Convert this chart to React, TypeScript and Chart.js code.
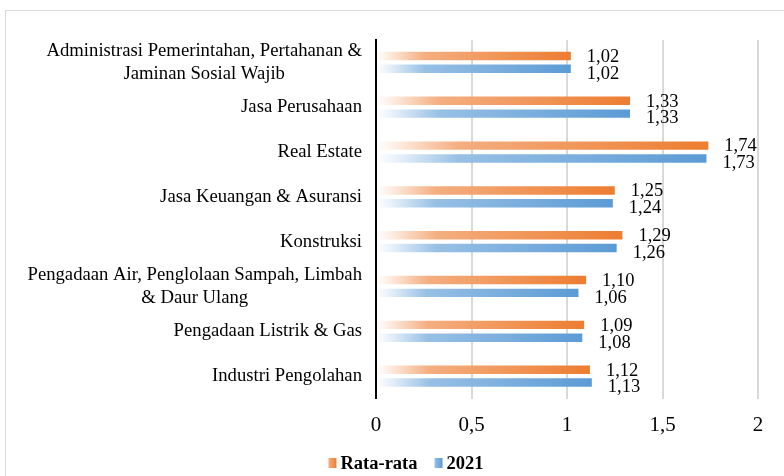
import React, { useEffect, useRef } from 'react';
import { Chart, registerables } from 'chart.js';

Chart.register(...registerables);

const categories: string[][] = [
  ['Administrasi Pemerintahan, Pertahanan &', 'Jaminan Sosial Wajib'],
  ['Jasa Perusahaan'],
  ['Real Estate'],
  ['Jasa Keuangan & Asuransi'],
  ['Konstruksi'],
  ['Pengadaan Air, Penglolaan Sampah, Limbah', '& Daur Ulang'],
  ['Pengadaan Listrik & Gas'],
  ['Industri Pengolahan'],
];
const rataRata = [1.02, 1.33, 1.74, 1.25, 1.29, 1.1, 1.09, 1.12];
const tahun2021 = [1.02, 1.33, 1.73, 1.24, 1.26, 1.06, 1.08, 1.13];
const seriesNames = ['Rata-rata', '2021'];
const xTicks = [0, 0.5, 1, 1.5, 2];

const SERIF = '"Liberation Serif", "Times New Roman", serif';

const orangeStops: [number, string][] = [
  [0, '#ffffff'],
  [0.06, '#fdeee4'],
  [0.25, '#f4ae80'],
  [1, '#ed7d31'],
];
const blueStops: [number, string][] = [
  [0, '#ffffff'],
  [0.06, '#eaf2fa'],
  [0.25, '#98c0e5'],
  [1, '#5b9bd5'],
];

const makeFill = (stops: [number, string][], fallback: string) => (ctx: any) => {
  const chart = ctx.chart;
  const xs = chart.scales && chart.scales.x;
  if (!chart.chartArea || !xs || ctx.type !== 'data' || ctx.raw == null) return fallback;
  const x0 = xs.getPixelForValue(0);
  const x1 = xs.getPixelForValue(ctx.raw);
  if (!isFinite(x0) || !isFinite(x1) || x1 - x0 < 1) return fallback;
  const g = chart.ctx.createLinearGradient(x0, 0, x1, 0);
  stops.forEach(([o, c]) => g.addColorStop(o, c));
  return g;
};

const framePlugin = {
  id: 'frame',
  beforeDraw(chart: any) {
    const c = chart.ctx;
    c.save();
    c.fillStyle = '#ffffff';
    c.fillRect(0, 0, chart.width, chart.height);
    c.strokeStyle = '#d9d9d9';
    c.lineWidth = 1;
    c.strokeRect(5.5, 10.5, chart.width + 20, chart.height + 20);
    c.restore();
  },
};

const categoryLabelPlugin = {
  id: 'categoryLabels',
  afterDraw(chart: any) {
    const c = chart.ctx;
    const ys = chart.scales.y;
    const right = chart.chartArea.left - 14;
    const lh = 23;
    c.save();
    c.font = `18.7px ${SERIF}`;
    c.fillStyle = '#000000';
    c.textAlign = 'center';
    c.textBaseline = 'middle';
    categories.forEach((lines, i) => {
      const y = ys.getPixelForValue(i);
      const w = Math.max(...lines.map((l) => c.measureText(l).width));
      const cx = right - w / 2;
      lines.forEach((l, j) => {
        c.fillText(l, cx, y + (j - (lines.length - 1) / 2) * lh);
      });
    });
    c.restore();
  },
};

const dataLabelPlugin = {
  id: 'dataLabels',
  afterDatasetsDraw(chart: any) {
    const c = chart.ctx;
    c.save();
    c.font = `18.5px ${SERIF}`;
    c.fillStyle = '#000000';
    c.textAlign = 'left';
    c.textBaseline = 'middle';
    chart.data.datasets.forEach((ds: any, di: number) => {
      const meta = chart.getDatasetMeta(di);
      meta.data.forEach((el: any, i: number) => {
        const v = ds.data[i] as number;
        const txt = v.toFixed(2).replace('.', ',');
        c.fillText(txt, el.x + 16, el.y + (di === 0 ? 1 : 5));
      });
    });
    c.restore();
  },
};

const legendPlugin = {
  id: 'customLegend',
  afterDraw(chart: any) {
    const c = chart.ctx;
    c.save();
    c.font = `bold 18.5px ${SERIF}`;
    const iconW = 8;
    const iconH = 10;
    const gapText = 4;
    const gapItems = 17;
    const widths = seriesNames.map((n) => c.measureText(n).width);
    const total =
      widths.reduce((a, w) => a + iconW + gapText + w, 0) + gapItems * (seriesNames.length - 1);
    let x = 406 - total / 2;
    const yc = 463;
    const stopsList = [orangeStops, blueStops];
    seriesNames.forEach((n, i) => {
      const g = c.createLinearGradient(x, 0, x + iconW, 0);
      g.addColorStop(0, stopsList[i][2][1]);
      g.addColorStop(1, stopsList[i][3][1]);
      c.fillStyle = g;
      c.fillRect(x, yc - iconH / 2, iconW, iconH);
      x += iconW + gapText;
      c.fillStyle = '#000000';
      c.textAlign = 'left';
      c.textBaseline = 'middle';
      c.fillText(n, x, yc + 1);
      x += widths[i] + gapItems;
    });
    c.restore();
  },
};

export default function App() {
  const ref = useRef<HTMLCanvasElement | null>(null);

  useEffect(() => {
    document.body.style.margin = '0';
    const canvas = ref.current;
    if (!canvas) return;
    const chart = new Chart(canvas, {
      type: 'bar',
      data: {
        labels: categories.map((l) => l.join(' ')),
        datasets: [
          {
            label: seriesNames[0],
            data: rataRata,
            backgroundColor: makeFill(orangeStops, '#ed7d31'),
            categoryPercentage: 0.571,
            barPercentage: 0.66,
          },
          {
            label: seriesNames[1],
            data: tahun2021,
            backgroundColor: makeFill(blueStops, '#5b9bd5'),
            categoryPercentage: 0.571,
            barPercentage: 0.66,
          },
        ],
      },
      options: {
        indexAxis: 'y',
        responsive: false,
        animation: false,
        layout: { padding: { top: 40, right: 26, bottom: 0, left: 0 } },
        plugins: {
          legend: { display: false },
          tooltip: { enabled: false },
        },
        scales: {
          x: {
            min: 0,
            max: 2,
            afterBuildTicks: (s: any) => {
              s.ticks = xTicks.map((v) => ({ value: v }));
            },
            grid: { color: '#d9d9d9', lineWidth: 2, drawTicks: false },
            border: { display: false },
            ticks: {
              padding: 14,
              color: '#000000',
              font: { family: SERIF, size: 21 },
              callback: (v: any) => String(v).replace('.', ','),
            },
            afterFit: (s: any) => {
              s.height = 77.5;
            },
          },
          y: {
            grid: { display: false },
            border: { display: true, color: '#000000', width: 2 },
            ticks: { display: false },
            afterFit: (s: any) => {
              s.width = 376;
            },
          },
        },
      } as any,
      plugins: [framePlugin, categoryLabelPlugin, dataLabelPlugin, legendPlugin],
    });
    return () => chart.destroy();
  }, []);

  return (
    <div style={{ width: 784, height: 476 }}>
      <canvas ref={ref} width={784} height={476} />
    </div>
  );
}
